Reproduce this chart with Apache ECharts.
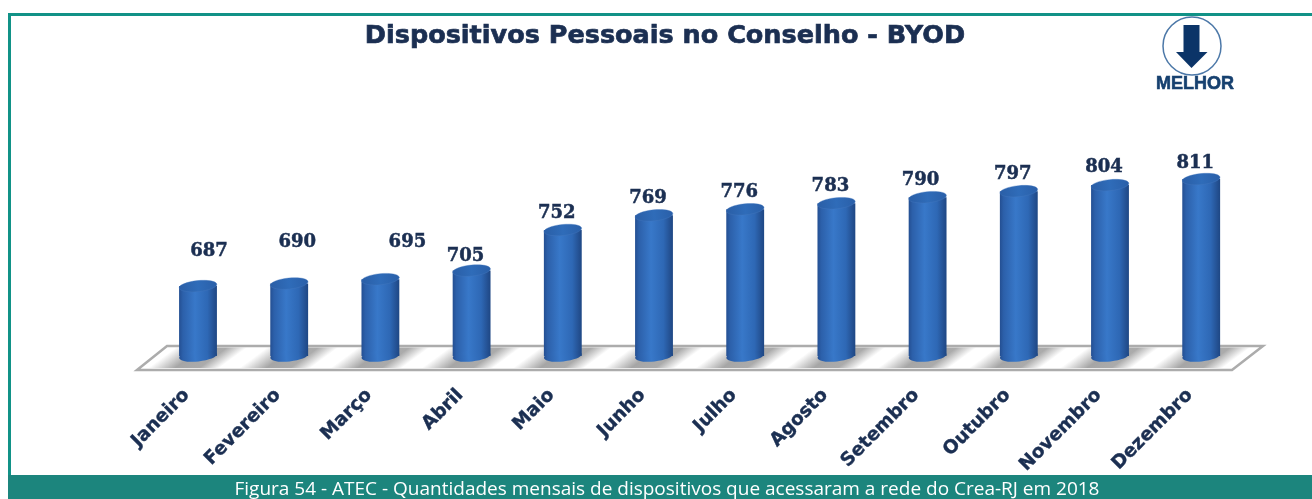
<!DOCTYPE html>
<html><head><meta charset="utf-8">
<style>html,body{margin:0;padding:0;background:#fff}#c{width:1312px;height:499px}</style>
<script src="https://cdn.jsdelivr.net/npm/echarts@6/dist/echarts.min.js"></script>
</head><body><div id="c"></div>
<script>
const months = ['Janeiro','Fevereiro','Março','Abril','Maio','Junho','Julho','Agosto','Setembro','Outubro','Novembro','Dezembro'];
const devices = [687,690,695,705,752,769,776,783,790,797,804,811];
const labelNudgeX = [11,8,27,-6,-6,-6,-6,-6,-7,-6,-6,-6];
const labelNudgeY = [-35,-41,-37,-14,-17,-17,-17,-17,-17,-17,-18,-16];
const titleText = 'Dispositivos Pessoais no Conselho - BYOD';
const captionText = 'Figura 54 - ATEC - Quantidades mensais de dispositivos que acessaram a rede do Crea-RJ em 2018';
const teal = '#1c857d', ink = '#1b2f52';

const chart = echarts.init(document.getElementById('c'), null, {renderer:'canvas'});
const sideFill = {type:'linear',x:0,y:0,x2:1,y2:0,colorStops:[
  {offset:0,color:'#244f92'},{offset:.1,color:'#2c60aa'},{offset:.42,color:'#3878c9'},
  {offset:.75,color:'#2e68b5'},{offset:.92,color:'#245193'},{offset:1,color:'#1e4784'}]};
const topFill = {type:'linear',x:0,y:0,x2:1,y2:0,colorStops:[
  {offset:0,color:'#2a5ea6'},{offset:.5,color:'#2f6cb9'},{offset:1,color:'#2a5fa8'}]};

function renderBar(params, api){
  const i = api.value(0), v = api.value(1);
  const top = api.coord([i, v]), base = api.coord([i, 606]);
  const band = api.size([1,0])[0];
  const w = band*0.415, r = w/2, ry = 5.5, tilt = 0.1;
  const x = top[0], y = top[1], by = base[1];
  const shadowFill = {type:'linear',global:true,x:x-50,y:368,x2:x-25,y2:402,colorStops:[
    {offset:0,color:'rgba(150,150,150,0)'},{offset:.38,color:'rgba(150,150,150,.85)'},
    {offset:.72,color:'rgba(150,150,150,.8)'},{offset:1,color:'rgba(150,150,150,0)'}]};
  return {type:'group', children:[
    {type:'polygon', shape:{points:[[x-50,368],[x+22,368],[x+50,347.5],[x-22,347.5]]}, style:{fill:shadowFill}},
    {type:'rect', shape:{x:x-r,y:y,width:w,height:by-y}, style:{fill:sideFill}},
    {type:'ellipse', shape:{cx:x,cy:by,rx:r,ry:ry}, rotation:tilt, originX:x, originY:by, style:{fill:sideFill}},
    {type:'ellipse', shape:{cx:x,cy:y,rx:r,ry:ry}, rotation:tilt, originX:x, originY:y, style:{fill:topFill, stroke:'rgba(70,120,190,.6)', lineWidth:.6}},
    {type:'text', style:{x:x+labelNudgeX[i], y:y+labelNudgeY[i], text:String(v), fill:ink, stroke:ink, lineWidth:.5,
      font:'bold 18px "DejaVu Serif"', align:'center', verticalAlign:'middle'}}
  ]};
}

chart.setOption({
  animation:false,
  backgroundColor:'#fff',
  grid:{left:152.4,width:1094.4,top:145.4,bottom:143},
  xAxis:{type:'category',data:months,
    axisLine:{show:false},axisTick:{show:false},
    axisLabel:{rotate:45,margin:25,padding:[0,16,0,0],interval:0,color:ink,fontFamily:'"DejaVu Sans"',fontWeight:'bold',fontSize:18.5,
      textBorderColor:ink,textBorderWidth:.4}},
  yAxis:{type:'value',min:606,max:850,show:false},
  graphic:[
    {type:'rect',shape:{x:8,y:13,width:1304,height:3},style:{fill:'#119287'},silent:true},
    {type:'rect',shape:{x:8,y:13,width:3,height:462},style:{fill:'#119287'},silent:true},
    {type:'rect',shape:{x:8,y:475,width:1304,height:24},style:{fill:teal},silent:true},
    {type:'text',x:667,y:490,style:{text:captionText,fill:'#fff',font:'19px "Open Sans"',align:'center',verticalAlign:'middle'}},
    {type:'text',x:665,y:36,style:{text:titleText,fill:ink,stroke:ink,lineWidth:.7,font:'bold 25.5px "DejaVu Sans"',align:'center',verticalAlign:'middle'}},
    {type:'polygon',shape:{points:[[137,370],[167,346],[1263,346],[1232,370]]},
      style:{fill:'#fff',stroke:'#acacac',lineWidth:2.5},silent:true},
    {type:'circle',shape:{cx:1192,cy:46,r:29},style:{fill:'#fff',stroke:'#4c78a8',lineWidth:1.5}},
    {type:'polygon',shape:{points:[[1183.5,25],[1199.5,25],[1199.5,52],[1207.5,52],[1191.5,68],[1176,52],[1183.5,52]]},style:{fill:'#0b3468'}},
    {type:'text',x:1195,y:84,style:{text:'MELHOR',fill:'#16406f',stroke:'#16406f',lineWidth:.6,font:'bold 18px "Liberation Sans"',align:'center',verticalAlign:'middle'}}
  ],
  series:[{type:'custom',renderItem:renderBar,clip:false,z:5,encode:{x:0,y:1},
    data:devices.map((v,i)=>[i,v])}]
});
</script></body></html>
